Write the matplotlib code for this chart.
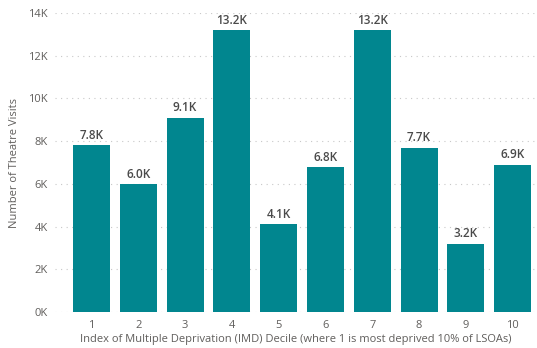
import numpy as np
import matplotlib
matplotlib.use("Agg")
import matplotlib.pyplot as plt
from matplotlib.ticker import FuncFormatter

plt.rcParams['font.family'] = ['Open Sans', 'DejaVu Sans']

# IMD decile vs theatre visits
deciles = ['1', '2', '3', '4', '5', '6', '7', '8', '9', '10']
visits = [7800, 6000, 9100, 13200, 4100, 6800, 13200, 7700, 3200, 6900]
value_labels = ['7.8K', '6.0K', '9.1K', '13.2K', '4.1K', '6.8K', '13.2K', '7.7K', '3.2K', '6.9K']

bar_color = '#01868F'
text_color = '#605E5C'

fig = plt.figure(figsize=(5.37, 3.48), dpi=100)
ax = fig.add_axes([55 / 537, 1 - 312 / 348, 482 / 537, 299 / 348])

x = np.arange(1, len(deciles) + 1)
ax.bar(x, visits, width=0.79, color=bar_color, zorder=2)

for xi, v, lab in zip(x, visits, value_labels):
    ax.text(xi, v + 150, lab, ha='center', va='bottom', fontsize=8.5,
            color='#4A4A4A', fontweight='semibold')

ax.set_xlim(0.22, 10.52)
ax.set_ylim(0, 14000)
ax.set_xticks(x)
ax.set_xticklabels(deciles)
ax.set_yticks(np.arange(0, 14001, 2000))
ax.yaxis.set_major_formatter(FuncFormatter(lambda v, p: f'{int(v / 1000)}K'))

ax.grid(axis='y', linestyle=(0, (1, 4)), color='#C8C8C8', linewidth=0.8, zorder=0)
for s in ax.spines.values():
    s.set_visible(False)
ax.tick_params(axis='both', length=0, colors=text_color, labelsize=8)
ax.tick_params(axis='x', pad=6)
ax.tick_params(axis='y', pad=5)

ax.set_xlabel('Index of Multiple Deprivation (IMD) Decile (where 1 is most deprived 10% of LSOAs)',
              fontsize=8, color=text_color, labelpad=2)
ax.set_ylabel('Number of Theatre Visits', fontsize=8, color=text_color, labelpad=6)

fig.savefig('out.png', dpi=100)
